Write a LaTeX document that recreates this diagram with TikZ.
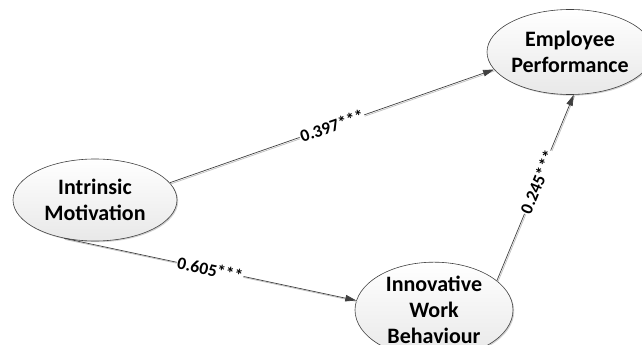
\documentclass[tikz,border=0pt]{standalone}
\usepackage{fontspec}
\setmainfont{Carlito}
\usetikzlibrary{shapes.geometric,arrows.meta,shadows}
\begin{document}
\begin{tikzpicture}[x=1pt,y=-1pt,
  construct/.style={ellipse, draw=black!75, line width=0.6pt, inner sep=0pt,
    top color=white, bottom color=black!9,
    drop shadow={shadow xshift=1.2pt, shadow yshift=-1.2pt, fill=black!30, opacity=0.6},
    align=center, font=\fontsize{22}{26}\selectfont\bfseries},
  path/.style={draw=black!75, line width=0.7pt,
    -{Triangle[length=11pt,width=6.5pt]},
    preaction={draw=black!25, line width=0.7pt, -, transform canvas={shift={(1pt,-1.2pt)}}}},
  coef/.style={sloped, fill=white, inner sep=1pt, font=\fontsize{17.5}{19}\selectfont\bfseries}
]
\useasboundingbox (0,0) rectangle (642,345);
\node[construct, minimum width=164pt, minimum height=82pt] (im) at (95,200) {Intrinsic\\Motivation};
\node[construct, minimum width=146pt, minimum height=85pt] (ep) at (570,52) {Employee\\Performance};
\node[construct, minimum width=158pt, minimum height=92pt] (iwb) at (434,310) {Innovative\\Work\\Behaviour};
\draw[path] (im.13) -- node[coef, pos=0.5] {0.397***} (ep.193);
\draw[path] (im.231) -- node[coef, pos=0.5] {0.605***} (iwb.173);
\draw[path] (iwb.25) -- node[coef, pos=0.53] {0.245***} (ep.275);
\end{tikzpicture}
\end{document}
